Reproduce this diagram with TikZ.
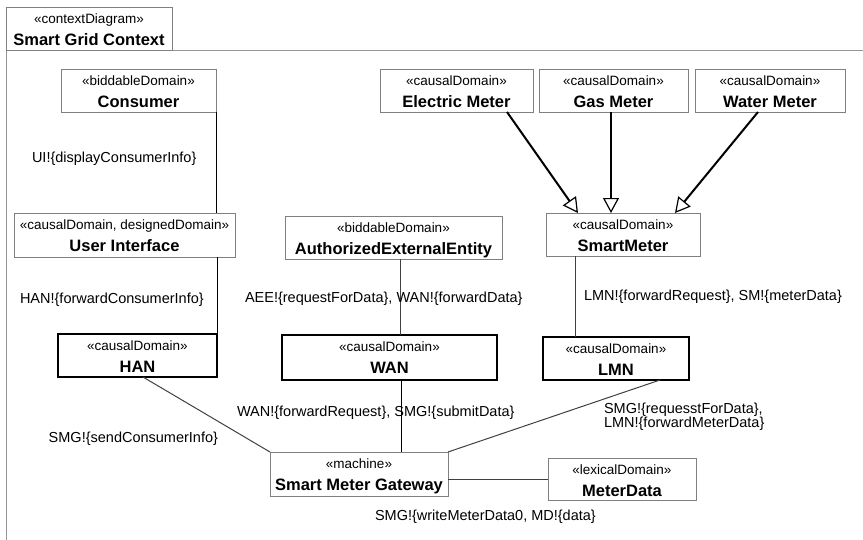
\documentclass[tikz,border=0pt]{standalone}
\usepackage{fontspec}
\setmainfont{Liberation Sans}
\usetikzlibrary{arrows.meta}

\definecolor{boxgray}{RGB}{128,128,128}
\definecolor{framegray}{RGB}{150,150,150}
\definecolor{linkgray}{RGB}{64,64,64}

\tikzset{
  every node/.style={inner sep=0pt, outer sep=0pt},
  dom/.style={draw=boxgray, line width=1pt, fill=white},
  domk/.style={draw=black, line width=1.4pt, fill=white},
  stereo/.style={anchor=base, font=\fontsize{13.5}{15}\selectfont},
  dname/.style={anchor=base, font=\fontsize{16.5}{19}\selectfont\bfseries},
  flow/.style={anchor=west, align=left, font=\fontsize{14.5}{14}\selectfont},
  link/.style={draw=linkgray, line width=1pt},
  linkk/.style={draw=black, line width=1pt},
  gen/.style={draw=black, line width=2pt,
    -{Triangle[open, length=15pt, width=16pt, line width=1.2pt]}},
}

% #1 style, #2 name, #3 #4 centre, #5 #6 size, #7 stereotype, #8 title
\newcommand\domain[8]{%
  \node[#1, minimum width=#5pt, minimum height=#6pt] (#2) at (#3,#4) {};
  \node[stereo] (#2-st) at ([yshift=-16pt]#2.north) {«#7»};
  \node[dname] (#2-nm) at ([yshift=-38pt]#2.north) {#8};
}

\begin{document}
\begin{tikzpicture}[x=1pt, y=-1pt]
  \useasboundingbox (0,0) rectangle (863,539);

  % diagram frame and its name tab
  \coordinate (frameTR) at (863,50);
  \coordinate (frameBL) at (6,545);
  \draw[framegray, line width=1pt] (frameTR) -| (frameBL);
  \domain{dom}{title}{89}{28.5}{166}{43}{contextDiagram}{Smart Grid Context}

  % domains
  \domain{dom}{consumer}{138.5}{90.5}{155}{43}{biddableDomain}{Consumer}
  \domain{dom}{ui}{124.5}{235}{221}{44}{causalDomain, designedDomain}{User Interface}
  \domain{domk}{han}{137.5}{355.5}{159}{43}{causalDomain}{HAN}
  \domain{dom}{aee}{393.5}{237.5}{217}{43}{biddableDomain}{AuthorizedExternalEntity}
  \domain{domk}{wan}{389.5}{357.5}{215}{45}{causalDomain}{WAN}
  \domain{dom}{electric}{456.5}{90.5}{153}{43}{causalDomain}{Electric Meter}
  \domain{dom}{gas}{613.5}{90.5}{149}{43}{causalDomain}{Gas Meter}
  \domain{dom}{water}{770}{90.5}{150}{43}{causalDomain}{Water Meter}
  \domain{dom}{smartmeter}{623}{234.5}{154}{43}{causalDomain}{SmartMeter}
  \domain{domk}{lmn}{616}{358.5}{146}{43}{causalDomain}{LMN}
  \domain{dom}{smg}{359}{474}{178}{44}{machine}{Smart Meter Gateway}
  \domain{dom}{meterdata}{622}{479}{148}{42}{lexicalDomain}{MeterData}

  % interfaces
  \draw[linkk] (consumer.south east) -- (ui.north -| consumer.south east);
  \draw[linkk] (han.north east |- ui.south) -- (han.north east);
  \draw[link] ([xshift=7pt]aee.south) -- ([xshift=7pt]aee.south |- wan.north);
  \draw[linkk] ([xshift=11.5pt]wan.south) -- ([xshift=11.5pt]wan.south |- smg.north);
  \draw[link] ([xshift=-48pt]smartmeter.south) -- ([xshift=-48pt]smartmeter.south |- lmn.north);
  \draw[link] ([xshift=5.5pt]han.south) -- (smg.north west);
  \draw[link] ([xshift=44pt]lmn.south) -- (smg.north east);
  \draw[link] (meterdata.west -| smg.east) -- (meterdata.west);

  % meters specialise the smart meter
  \draw[gen] ([xshift=50.5pt]electric.south) -- ([xshift=-45pt]smartmeter.north);
  \draw[gen] ([xshift=-2.5pt]gas.south) -- ([xshift=-12pt]smartmeter.north);
  \draw[gen] ([xshift=-12pt]water.south) -- ([xshift=52pt]smartmeter.north);

  % shared phenomena
  \node[flow] (l-ui) at (32,159) {UI!\{displayConsumerInfo\}};
  \node[flow] (l-han) at (20,300) {HAN!\{forwardConsumerInfo\}};
  \node[flow] (l-aee) at (245,299) {AEE!\{requestForData\}, WAN!\{forwardData\}};
  \node[flow] (l-lmn) at (584,297) {LMN!\{forwardRequest\}, SM!\{meterData\}};
  \node[flow] (l-wan) at (237,413) {WAN!\{forwardRequest\}, SMG!\{submitData\}};
  \node[flow, anchor=east] (l-smgh) at (218,439) {SMG!\{sendConsumerInfo\}};
  \node[flow] (l-smgl) at (604,417) {SMG!\{requesstForData\},\\LMN!\{forwardMeterData\}};
  \node[flow] (l-md) at (375,517) {SMG!\{writeMeterData0, MD!\{data\}};
\end{tikzpicture}
\end{document}
